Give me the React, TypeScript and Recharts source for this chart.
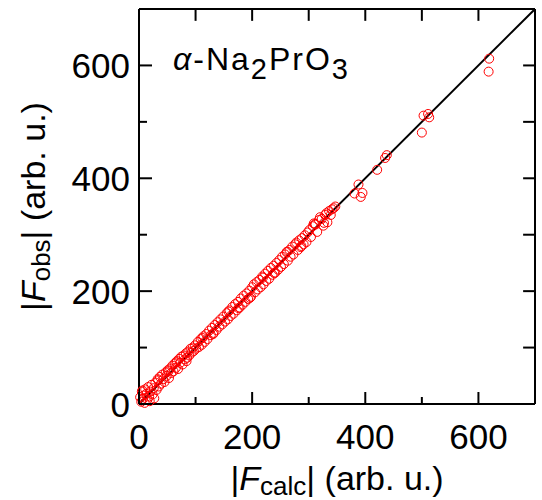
import { ReferenceLine, Scatter, ScatterChart, XAxis, YAxis, Label } from "recharts"

// |F_calc| vs |F_obs|
const fCalc = [
    2, 4, 5, 7, 8, 10, 11, 13, 15, 16, 18, 20, 22, 24, 26, 27, 29, 31, 33, 35, 37, 39, 41, 43, 45, 47, 49, 51, 53, 55,
    57, 59, 61, 63, 65, 67, 69, 71, 73, 75, 77, 79, 81, 83, 85, 87, 89, 91, 93, 95, 97, 99, 101,
    104, 106, 109, 111, 114, 116, 119, 121, 124, 127, 129, 132, 134, 137, 139, 142, 144, 147, 149, 152,
    155, 157, 160, 162, 165, 167, 170, 173, 175, 178, 180, 183, 185, 188, 190, 193, 195, 198, 200,
    203, 205, 208, 210, 213, 215, 218, 220, 223, 225, 228, 230, 233, 236, 238, 241, 243, 246, 248, 251,
    253, 256, 258, 261, 263, 266, 268, 271, 273, 276, 278, 281, 283, 286, 288, 291, 293, 296, 298,
    301, 304, 307, 309, 312, 315, 318, 320, 323, 326, 329, 331, 333, 336, 339, 341, 344, 347,
    381, 388, 392, 395, 421, 435, 438, 500, 503, 511, 513, 618, 619,
    6, 19, 34, 52, 66, 84, 112, 131, 158, 176, 196, 219, 239, 262, 287, 311, 327,
]
const fObs = [
    12, 4, 22, 9, 15, 2, 26, 18, 8, 30, 13, 22, 34, 17, 28, 10, 38, 25, 44, 31, 48, 36, 52, 44, 39, 56, 50, 60, 46, 63,
    55, 68, 58, 72, 64, 76, 62, 80, 73, 84, 70, 86, 79, 90, 82, 93, 86, 98, 91, 100, 94, 104, 98,
    110, 101, 115, 105, 120, 110, 124, 115, 130, 122, 135, 126, 140, 131, 145, 137, 150, 141, 155, 146,
    161, 150, 166, 156, 172, 160, 177, 166, 181, 171, 187, 176, 192, 181, 196, 186, 201, 190, 207,
    212, 198, 216, 203, 220, 207, 226, 212, 231, 218, 236, 222, 241, 229, 245, 233, 250, 238, 255, 243,
    261, 248, 265, 269, 254, 273, 261, 279, 265, 283, 286, 273, 290, 278, 294, 283, 299, 287, 304,
    308, 296, 315, 320, 318, 305, 326, 331, 328, 316, 335, 338, 322, 342, 335, 345, 347, 350,
    373, 389, 367, 374, 415, 436, 441, 481, 511, 514, 508, 589, 612,
    24, 5, 42, 58, 74, 76, 117, 124, 164, 170, 188, 224, 232, 270, 280, 319, 321,
]

const axisTicks = [0, 100, 200, 300, 400, 500, 600, 700]
const labeledTicks = [0, 200, 400, 600]

const points = fCalc.map((c, i) => ({ calc: c, obs: fObs[i] }))

const FONT = "'Liberation Sans', Arial, Helvetica, sans-serif"
const TICK_UNITS = 21 // about 12 px in data units

const BottomTick = (props: any) => {
    const { x, y, payload } = props
    const v = payload.value
    const major = labeledTicks.includes(v)
    return (
        <g>
            <line x1={x} y1={y} x2={x} y2={y - (major ? 12 : 7)} stroke="#000" strokeWidth={2} />
            {major && (
                <text x={x} y={y + 45} textAnchor="middle" fontSize={35} fontFamily={FONT} fill="#000">{v}</text>
            )}
        </g>
    )
}

const LeftTick = (props: any) => {
    const { x, y, payload } = props
    const v = payload.value
    const major = labeledTicks.includes(v)
    return (
        <g>
            <line x1={x} y1={y} x2={x + (major ? 13 : 8)} y2={y} stroke="#000" strokeWidth={2} />
            {major && (
                <text x={x - 9} y={y + 12.5} textAnchor="end" fontSize={35} fontFamily={FONT} fill="#000">{v}</text>
            )}
        </g>
    )
}

const Circle = (props: any) => (
    <circle cx={props.cx} cy={props.cy} r={4.5} fill="none" stroke="#ff0000" strokeWidth={1} />
)

const XTitle = ({ viewBox }: any) => (
    <text x={viewBox.x + viewBox.width / 2} y={viewBox.y + 86} textAnchor="middle" fontSize={34} fontFamily={FONT} fill="#000">
        <tspan>|</tspan>
        <tspan fontStyle="italic">F</tspan>
        <tspan fontSize={26} dy={5}>calc</tspan>
        <tspan dy={-5}>| (arb. u.)</tspan>
    </text>
)

const YTitle = ({ viewBox }: any) => {
    const cx = 45
    const cy = viewBox.y + viewBox.height / 2
    return (
        <text x={cx} y={cy} transform={`rotate(-90 ${cx} ${cy})`} textAnchor="middle" fontSize={34} fontFamily={FONT} fill="#000">
            <tspan>|</tspan>
            <tspan fontStyle="italic">F</tspan>
            <tspan fontSize={26} dy={5}>obs</tspan>
            <tspan dy={-5}>| (arb. u.)</tspan>
        </text>
    )
}

export default function App() {
    return (
        <div style={{ position: "absolute", left: 0, top: 0, width: 542, height: 500, overflow: "hidden" }}>
            <ScatterChart width={542} height={500} margin={{ top: 9, right: 7, bottom: 0, left: 8 }}>
                <XAxis type="number" dataKey="calc" domain={[0, 700]} ticks={axisTicks} interval={0}
                    height={96} tickSize={0} tickMargin={0} tickLine={false}
                    axisLine={{ stroke: "#000", strokeWidth: 2 }} tick={BottomTick}>
                    <Label content={XTitle} />
                </XAxis>
                <YAxis type="number" dataKey="obs" domain={[0, 700]} ticks={axisTicks} interval={0}
                    width={131} tickSize={0} tickMargin={0} tickLine={false}
                    axisLine={{ stroke: "#000", strokeWidth: 2 }} tick={LeftTick}>
                    <Label content={YTitle} />
                </YAxis>
                <ReferenceLine y={700} stroke="#000" strokeWidth={2} />
                <ReferenceLine x={700} stroke="#000" strokeWidth={2} />
                {axisTicks.map((t) => (
                    <ReferenceLine key={`tt-${t}`} segment={[{ x: t, y: 700 }, { x: t, y: 700 - TICK_UNITS }]} stroke="#000" strokeWidth={2} />
                ))}
                {axisTicks.map((t) => (
                    <ReferenceLine key={`rt-${t}`} segment={[{ x: 700, y: t }, { x: 700 - TICK_UNITS, y: t }]} stroke="#000" strokeWidth={2} />
                ))}
                <Scatter data={points} shape={Circle} isAnimationActive={false} />
                <ReferenceLine segment={[{ x: 0, y: 0 }, { x: 700, y: 700 }]} stroke="#000" strokeWidth={2} ifOverflow="hidden" />
            </ScatterChart>
            <div style={{ position: "absolute", left: 173, top: 44, fontSize: 32, lineHeight: "30px", fontFamily: FONT, whiteSpace: "nowrap", letterSpacing: 2 }}>
                <i>α</i>-Na<sub style={{ fontSize: 29, verticalAlign: -9, lineHeight: 0 }}>2</sub>PrO<sub style={{ fontSize: 29, verticalAlign: -9, lineHeight: 0 }}>3</sub>
            </div>
        </div>
    )
}
